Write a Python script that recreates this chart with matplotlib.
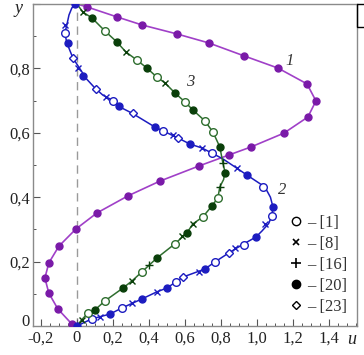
import matplotlib
matplotlib.use("Agg")
import matplotlib.pyplot as plt
from matplotlib.lines import Line2D
from matplotlib.patches import Rectangle

plt.rcParams['font.family'] = ['Liberation Serif', 'DejaVu Serif']

# ---------------- data ----------------
# Curve 1 (purple)
c1_u = [0.0, -0.028, -0.106, -0.156, -0.178, -0.156, -0.10, -0.006, 0.111, 0.283, 0.461, 0.678, 0.844,
        0.967, 1.150, 1.283, 1.328, 1.278, 1.117, 0.928, 0.733, 0.556, 0.361, 0.222, 0.056, 0.0]
c1_y = [0.0, 0.006, 0.053, 0.102, 0.149, 0.196, 0.248, 0.301, 0.351, 0.404, 0.450, 0.497, 0.531,
        0.556, 0.599, 0.649, 0.699, 0.752, 0.801, 0.839, 0.879, 0.907, 0.935, 0.960, 0.991, 1.0]
c1_pts_u = c1_u[1:-1]
c1_pts_y = c1_y[1:-1]

# Curve 2 (blue)
c2_u = [0.0, 0.082, 0.183, 0.25, 0.361, 0.444, 0.50, 0.55, 0.589, 0.711, 0.767, 0.844, 0.917, 0.994,
        1.028, 1.065, 1.083, 1.089, 1.075, 1.044, 0.944, 0.894, 0.811, 0.75, 0.694, 0.628, 0.561, 0.478,
        0.433, 0.306, 0.239, 0.194, 0.144, 0.10, 0.044, 0.028, -0.022, -0.056, -0.067, -0.056, -0.044,
        -0.028, 0.0]
c2_y = [0.0, 0.022, 0.037, 0.056, 0.084, 0.106, 0.118, 0.137, 0.152, 0.177, 0.199, 0.227, 0.252, 0.276,
        0.295, 0.318, 0.342, 0.370, 0.400, 0.432, 0.469, 0.488, 0.519, 0.537, 0.553, 0.565, 0.584, 0.606,
        0.618, 0.661, 0.680, 0.702, 0.717, 0.739, 0.773, 0.789, 0.832, 0.879, 0.910, 0.935, 0.966,
        0.988, 1.0]

# Curve 3 (green)
c3_u = [0.0, 0.026, 0.061, 0.10, 0.156, 0.256, 0.306, 0.361, 0.444, 0.544, 0.611, 0.644, 0.70, 0.75,
        0.783, 0.794, 0.815, 0.822, 0.811, 0.794, 0.756, 0.711, 0.644, 0.60, 0.544, 0.489, 0.444, 0.389,
        0.333, 0.272, 0.222, 0.156, 0.083, 0.033, 0.0]
c3_y = [0.0, 0.019, 0.040, 0.050, 0.078, 0.118, 0.140, 0.168, 0.211, 0.255, 0.289, 0.317, 0.339, 0.373,
        0.398, 0.432, 0.455, 0.480, 0.506, 0.556, 0.602, 0.637, 0.671, 0.696, 0.724, 0.755, 0.773, 0.801,
        0.826, 0.851, 0.882, 0.916, 0.957, 0.975, 1.0]

# Blue markers by source
b_ref1_u = [-0.067, 0.2, 0.478, 0.75, 1.033, 1.083, 0.928, 0.767, 0.55, 0.25, 0.083]
b_ref1_y = [0.910, 0.700, 0.606, 0.537, 0.432, 0.342, 0.252, 0.199, 0.137, 0.056, 0.022]
b_ref8_u = [-0.067, 0.006, 0.161, 0.533, 0.694, 0.889, 1.044, 0.878, 0.678, 0.444, 0.306, 0.128]
b_ref8_y = [0.935, 0.801, 0.711, 0.593, 0.553, 0.490, 0.318, 0.242, 0.168, 0.106, 0.071, 0.028]
b_ref20_u = [-0.011, -0.05, 0.033, 0.233, 0.433, 0.628, 0.944, 1.089, 0.994, 0.711, 0.50, 0.361, 0.183, 0.0]
b_ref20_y = [1.0, 0.879, 0.776, 0.683, 0.618, 0.565, 0.469, 0.370, 0.276, 0.177, 0.118, 0.084, 0.037, 0.0]
b_ref23_u = [-0.022, 0.106, 0.311, 0.561, 0.589, 0.844]
b_ref23_y = [0.832, 0.736, 0.661, 0.584, 0.152, 0.227]

# Green markers by source
g_ref1_u = [0.156, 0.333, 0.444, 0.60, 0.711, 0.756, 0.783, 0.70, 0.544, 0.361, 0.156, 0.061]
g_ref1_y = [0.916, 0.826, 0.773, 0.696, 0.637, 0.602, 0.398, 0.339, 0.255, 0.168, 0.078, 0.040]
g_ref8_u = [0.033, 0.272, 0.489, 0.644, 0.583, 0.306, 0.026]
g_ref8_y = [0.975, 0.851, 0.755, 0.317, 0.278, 0.140, 0.019]
g_ref16_u = [0.794, 0.811, 0.40]
g_ref16_y = [0.432, 0.506, 0.190]
g_ref20_u = [0.083, 0.222, 0.389, 0.544, 0.644, 0.794, 0.822, 0.75, 0.611, 0.444, 0.256, 0.10]
g_ref20_y = [0.957, 0.882, 0.801, 0.724, 0.671, 0.556, 0.475, 0.373, 0.289, 0.211, 0.118, 0.050]

legend_labels = ['– [1]', '– [8]', '– [16]', '– [20]', '– [23]']
xtick_vals = [-0.2, 0.0, 0.2, 0.4, 0.6, 0.8, 1.0, 1.2, 1.4]
xtick_labels = ['-0,2', '0', '0,2', '0,4', '0,6', '0,8', '1,0', '1,2', '1,4']
ytick_vals = [0.2, 0.4, 0.6, 0.8, 1.0]
ytick_labels = ['0,2', '0,4', '0,6', '0,8', '']

# ---------------- plot ----------------
W, H = 364, 355
fig = plt.figure(figsize=(W / 100, H / 100), dpi=100)
ax = fig.add_axes([33 / W, (H - 326) / H, 324 / W, 322 / H])
ax.set_xlim(-0.244, 1.556)
ax.set_ylim(0, 1.0)

purple_line = '#a040c8'
purple_dot = '#7a1aa8'
blue = '#1c1cc0'
green_line = '#2f6e2f'
green_dot = '#0a3f0a'

ax.axvline(0, color='#9a9a9a', lw=1.0, ls=(0, (6, 4)), zorder=1)

ax.plot(c1_u, c1_y, color=purple_line, lw=1.2, zorder=2)
ax.plot(c1_pts_u, c1_pts_y, ls='none', marker='o', ms=5, color=purple_dot, zorder=3)

ax.plot(c2_u, c2_y, color=blue, lw=1.1, zorder=2)
ax.plot(b_ref1_u, b_ref1_y, ls='none', marker='o', ms=5.5, mfc='white', mec=blue, mew=1.0, zorder=3)
ax.plot(b_ref8_u, b_ref8_y, ls='none', marker='x', ms=5, mec=blue, mew=1.0, zorder=3)
ax.plot(b_ref20_u, b_ref20_y, ls='none', marker='o', ms=5, color=blue, zorder=3)
ax.plot(b_ref23_u, b_ref23_y, ls='none', marker='D', ms=4, mfc='white', mec=blue, mew=1.0, zorder=3)

ax.plot(c3_u, c3_y, color=green_line, lw=1.1, zorder=2)
ax.plot(g_ref1_u, g_ref1_y, ls='none', marker='o', ms=5.5, mfc='white', mec=green_line, mew=1.0, zorder=3)
ax.plot(g_ref8_u, g_ref8_y, ls='none', marker='x', ms=5, mec=green_dot, mew=1.0, zorder=3)
ax.plot(g_ref16_u, g_ref16_y, ls='none', marker='+', ms=6, mec=green_dot, mew=1.0, zorder=3)
ax.plot(g_ref20_u, g_ref20_y, ls='none', marker='o', ms=5, color=green_dot, zorder=3)

# curve labels
lab_kw = dict(fontsize=12, style='italic', color='#333333')
ax.text(1.183, 0.823, '1', ha='center', va='center', **lab_kw)
ax.text(1.139, 0.422, '2', ha='center', va='center', **lab_kw)
ax.text(0.628, 0.758, '3', ha='center', va='center', **lab_kw)

# legend
handles = [
    Line2D([], [], ls='none', marker='o', ms=6, mfc='white', mec='black', mew=1.0),
    Line2D([], [], ls='none', marker='x', ms=5, mec='black', mew=1.2),
    Line2D([], [], ls='none', marker='+', ms=7, mec='black', mew=1.2),
    Line2D([], [], ls='none', marker='o', ms=6, color='black'),
    Line2D([], [], ls='none', marker='D', ms=4.5, mfc='white', mec='black', mew=1.0),
]
leg = ax.legend(handles, legend_labels, loc='lower left', bbox_to_anchor=(0.77, 0.015),
                frameon=False, handlelength=0.8, handletextpad=0.3, labelspacing=0.3,
                fontsize=12, borderaxespad=0)
for t in leg.get_texts():
    t.set_color('#333333')

# axes styling
frame_col = '#8a8a8a'
for s in ax.spines.values():
    s.set_color(frame_col)
    s.set_linewidth(1.0)
ax.set_xticks(xtick_vals)
ax.set_xticklabels(xtick_labels)
ax.set_yticks(ytick_vals)
ax.set_yticklabels(ytick_labels)
ax.set_xticks([v / 20 for v in range(-4, 32)], minor=True)
ax.set_yticks([v / 10 for v in range(0, 11)], minor=True)
ax.tick_params(axis='both', which='major', direction='in', length=5, width=0.8,
               color='#555555', labelsize=12, labelcolor='#222222', pad=2)
ax.tick_params(axis='x', which='major', pad=3)
ax.tick_params(axis='both', which='minor', direction='in', length=2.5, width=0.7, color='#555555')

# y = 0 label placed slightly above the x labels, as in the reference
ax.text(-0.262, 0.012, '0', ha='right', va='center', fontsize=12, color='#222222', clip_on=False)

ax.text(1.528, -0.015, 'u', ha='center', va='top',
        fontsize=13, style='italic', color='#222222', clip_on=False)
ax.text(-0.325, 0.985, 'y', ha='center', va='center', fontsize=13, style='italic',
        color='#222222', clip_on=False)

# clipped box at top right
fig.patches.append(Rectangle((357 / W, (H - 27) / H), 0.05, 23 / H, transform=fig.transFigure,
                             fill=False, edgecolor='black', lw=1.0))

fig.savefig('out.png', dpi=100)
